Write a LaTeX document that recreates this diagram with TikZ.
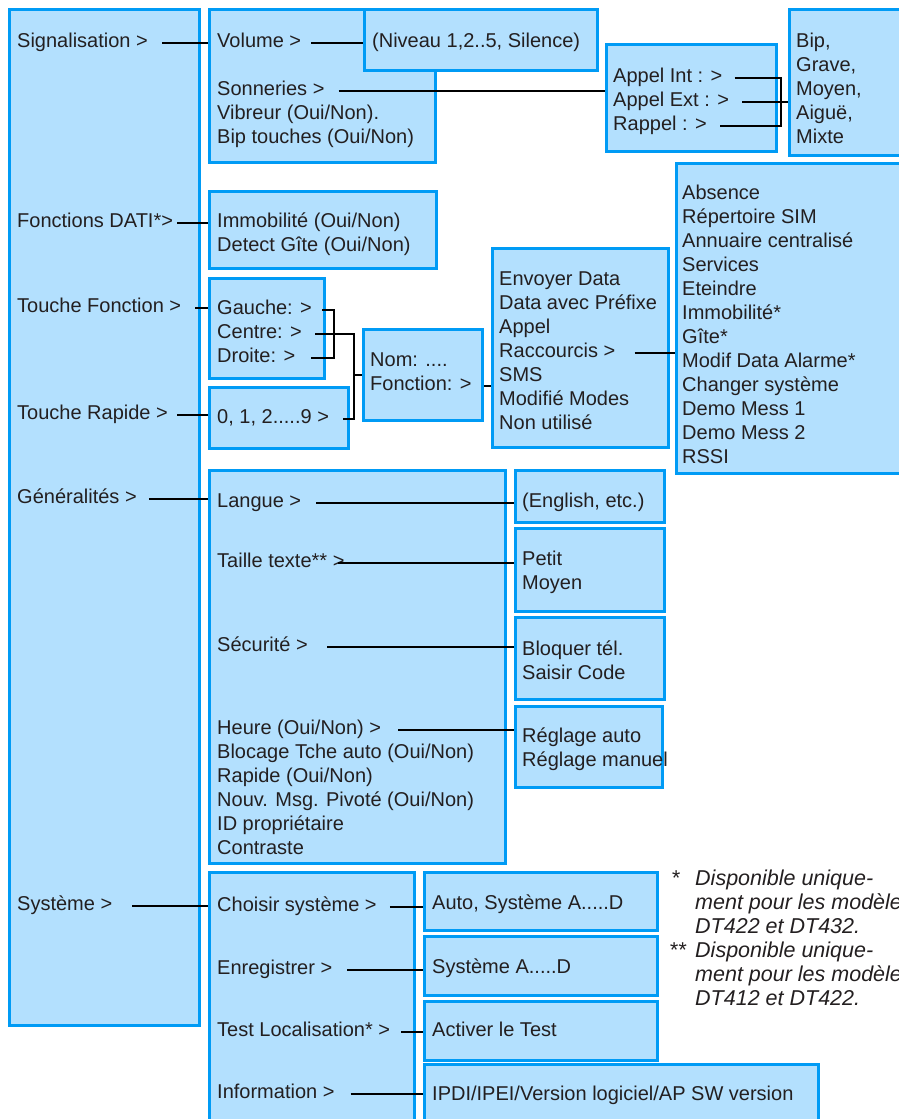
\documentclass[tikz,border=0pt]{standalone}
\usepackage{fontspec}
\setmainfont{Liberation Sans}
\usepackage{tikz}
\definecolor{boxfill}{RGB}{179,224,254}
\definecolor{boxline}{RGB}{0,155,245}
\definecolor{ink}{RGB}{35,31,32}
\tikzstyle{box} = [rectangle, anchor=north west, inner sep=0pt, fill=boxfill, draw=boxline, line width=2.6pt]
\tikzstyle{txt} = [anchor=base west, inner sep=0pt, text height=12pt, text depth=4pt, text=ink, font=\fontsize{20}{24}\selectfont]
\tikzstyle{note} = [txt, font=\fontsize{21.5}{24}\selectfont\itshape]
\tikzstyle{link} = [draw=black, line width=2pt]

\begin{document}
\begin{tikzpicture}[x=1pt, y=-1pt]
          \useasboundingbox (0,0) rectangle (898,1119);

          % boxes
          \node[box, minimum width=190pt, minimum height=1016pt] (menu) at (8,8) {};
          \node[box, minimum width=226pt, minimum height=153pt] (sigbox) at (208,8) {};
          \node[box, minimum width=233pt, minimum height=61pt] (nivbox) at (363,8) {};
          \node[box, minimum width=170pt, minimum height=107pt] (appbox) at (605,43) {};
          \node[box, minimum width=130pt, minimum height=146pt] (bipbox) at (788,8) {};
          \node[box, minimum width=227pt, minimum height=77pt] (datibox) at (208,190) {};
          \node[box, minimum width=115pt, minimum height=100pt] (gaubox) at (208,277) {};
          \node[box, minimum width=139pt, minimum height=61pt] (ninebox) at (208,386) {};
          \node[box, minimum width=119pt, minimum height=91pt] (nombox) at (362,328) {};
          \node[box, minimum width=176pt, minimum height=199pt] (envbox) at (491,247) {};
          \node[box, minimum width=240pt, minimum height=310pt] (absbox) at (675,162) {};
          \node[box, minimum width=296pt, minimum height=393pt] (genbox) at (208,469) {};
          \node[box, minimum width=149pt, minimum height=52pt] (engbox) at (514,469) {};
          \node[box, minimum width=149pt, minimum height=83pt] (taibox) at (514,527) {};
          \node[box, minimum width=149pt, minimum height=82pt] (secbox) at (514,616) {};
          \node[box, minimum width=147pt, minimum height=81pt] (heubox) at (514,705) {};
          \node[box, minimum width=205pt, minimum height=270pt] (sysbox) at (208,871) {};
          \node[box, minimum width=233pt, minimum height=58pt] (autobox) at (423,871) {};
          \node[box, minimum width=233pt, minimum height=59pt] (enrbox) at (423,935) {};
          \node[box, minimum width=233pt, minimum height=59pt] (locbox) at (423,1000) {};
          \node[box, minimum width=394pt, minimum height=80pt] (infbox) at (423,1063) {};

          % main menu
          \node[txt] (sig) at (17,47) {Signalisation >};
          \node[txt] (dati) at (17,227) {Fonctions DATI*>};
          \node[txt] (tfon) at (17,312) {Touche Fonction >};
          \node[txt] (trap) at (17,419) {Touche Rapide >};
          \node[txt] (gen) at (17,503) {Généralités >};
          \node[txt] (sys) at (17,910) {Système >};

          % Signalisation
          \node[txt] (vol) at (217,47) {Volume >};
          \node[txt] (son) at (217,95) {Sonneries >};
          \node[txt] (vib) at (217,119) {Vibreur (Oui/Non).};
          \node[txt] (bipt) at (217,143) {Bip touches (Oui/Non)};
          \node[txt] (niv) at (372,47) {(Niveau 1,2..5, Silence)};
          \node[txt] (aint) at (613,82) {Appel Int : >};
          \node[txt] (aext) at (613,106) {Appel Ext : >};
          \node[txt] (rap) at (613,130) {Rappel : >};
          \foreach [count=\i] \t in {{Bip,}, {Grave,}, {Moyen,}, {Aiguë,}, Mixte}
            \node[txt] (bip\i) at (796,23+24*\i) {\t};

          % Fonctions DATI, touches
          \node[txt] (immo) at (217,227) {Immobilité (Oui/Non)};
          \node[txt] (gite) at (217,251) {Detect Gîte (Oui/Non)};
          \node[txt] (gau) at (217,314) {Gauche: >};
          \node[txt] (cen) at (217,338) {Centre: >};
          \node[txt] (dro) at (217,362) {Droite: >};
          \node[txt] (nine) at (217,423) {0, 1, 2.....9 >};
          \node[txt] (nom) at (370,366) {Nom: ....};
          \node[txt] (fonc) at (370,390) {Fonction: >};
          \foreach [count=\i] \t in {Envoyer Data, Data avec Préfixe, Appel, Raccourcis >, SMS, Modifié Modes, Non utilisé}
            \node[txt] (env\i) at (499,261+24*\i) {\t};
          \foreach [count=\i] \t in {Absence, Répertoire SIM, Annuaire centralisé, Services, Eteindre, Immobilité*, Gîte*, Modif Data Alarme*, Changer système, Demo Mess 1, Demo Mess 2, RSSI}
            \node[txt] (abs\i) at (682,175+24*\i) {\t};

          % Generalites
          \node[txt] (lan) at (217,507) {Langue >};
          \node[txt] (tai) at (217,567) {Taille texte** >};
          \node[txt] (sec) at (217,651) {Sécurité >};
          \foreach [count=\i] \t in {Heure (Oui/Non) >, Blocage Tche auto (Oui/Non), Rapide (Oui/Non), Nouv. Msg. Pivoté (Oui/Non), ID propriétaire, Contraste}
            \node[txt] (heu\i) at (217,710+24*\i) {\t};
          \node[txt] (eng) at (522,507) {(English, etc.)};
          \node[txt] (pet) at (522,565) {Petit};
          \node[txt] (moy) at (522,589) {Moyen};
          \node[txt] (blo) at (522,655) {Bloquer tél.};
          \node[txt] (sai) at (522,679) {Saisir Code};
          \node[txt] (rauto) at (522,742) {Réglage auto};
          \node[txt] (rman) at (522,766) {Réglage manuel};

          % Systeme
          \node[txt] (cho) at (217,911) {Choisir système >};
          \node[txt] (enr) at (217,974) {Enregistrer >};
          \node[txt] (loc) at (217,1036) {Test Localisation* >};
          \node[txt] (inf) at (217,1098) {Information >};
          \node[txt] (auto) at (432,909) {Auto, Système A.....D};
          \node[txt] (sysad) at (432,973) {Système A.....D};
          \node[txt] (act) at (432,1036) {Activer le Test};
          \node[txt] (ipdi) at (432,1100) {IPDI/IPEI/Version logiciel/AP SW version};

          % notes
          \node[note] (star1) at (671,885) {*};
          \node[note] (note1a) at (695,885) {Disponible unique-};
          \node[note] (note1b) at (695,909) {ment pour les modèles};
          \node[note] (note1c) at (695,933) {DT422 et DT432.};
          \node[note] (star2) at (669,957) {**};
          \node[note] (note2a) at (695,957) {Disponible unique-};
          \node[note] (note2b) at (695,981) {ment pour les modèles};
          \node[note] (note2c) at (695,1005) {DT412 et DT422.};

          % connectors
          \coordinate (brA) at (781,0);
          \coordinate (brG) at (334,0);
          \coordinate (brC) at (354,0);
          \draw[link, shorten <=14pt] (sig.east) -- (sigbox.west |- sig.east);
          \draw[link, shorten <=10pt] (vol.east) -- (nivbox.west |- vol.east);
          \draw[link, shorten <=14pt] (son.east) -- (appbox.west |- son.east);
          \draw[link, shorten <=12pt, shorten >=13pt] (aint.east) -| (brA |- rap.east) -- (rap.east);
          \draw[link, shorten <=13pt] (aext.east) -- (bipbox.west |- aext.east);
          \draw[link, shorten <=4pt] (dati.east) -- (datibox.west |- dati.east);
          \draw[link, shorten <=14pt] (tfon.east) -- (gaubox.west |- tfon.east);
          \draw[link, shorten <=9pt] (trap.east) -- (ninebox.west |- trap.east);
          \draw[link, shorten <=10pt, shorten >=16pt] (gau.east) -| (brG |- dro.east) -- (dro.east);
          \draw[link, shorten <=13pt, shorten >=14pt] (cen.east) -| (brC |- nine.east) -- (nine.east);
          \draw[link] (brC |- nombox.west) -- (nombox.west);
          \draw[link, shorten <=12pt] (fonc.east) -- (envbox.west |- fonc.east);
          \draw[link, shorten <=19pt] (env4.east) -- (absbox.west |- env4.east);
          \draw[link, shorten <=12pt] (gen.east) -- (genbox.west |- gen.east);
          \draw[link, shorten <=15pt] (lan.east) -- (engbox.west |- lan.east);
          \draw[link, shorten <=-7pt] (tai.east) -- (taibox.west |- tai.east);
          \draw[link, shorten <=19pt] (sec.east) -- (secbox.west |- sec.east);
          \draw[link, shorten <=17pt] (heu1.east) -- (heubox.west |- heu1.east);
          \draw[link, shorten <=20pt] (sys.east) -- (sysbox.west |- sys.east);
          \draw[link, shorten <=13pt] (cho.east) -- (autobox.west |- cho.east);
          \draw[link, shorten <=15pt] (enr.east) -- (enrbox.west |- enr.east);
          \draw[link, shorten <=11pt] (loc.east) -- (locbox.west |- loc.east);
          \draw[link, shorten <=16pt] (inf.east) -- (infbox.west |- inf.east);
        \end{tikzpicture}
\end{document}
